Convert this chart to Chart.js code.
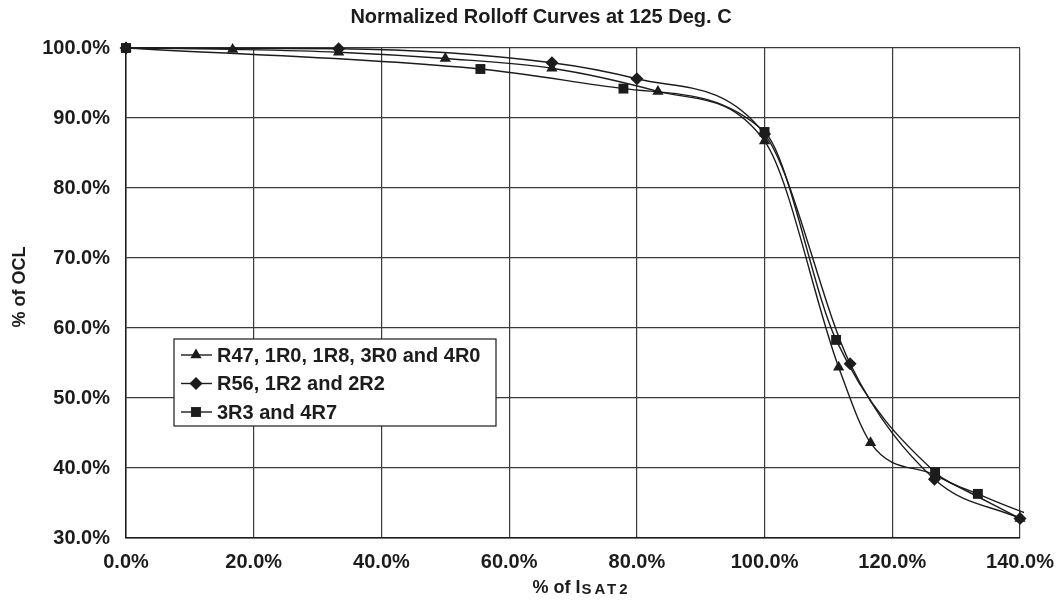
<!DOCTYPE html>
<html>
<head>
<meta charset="utf-8">
<script src="https://cdn.jsdelivr.net/npm/chart.js@4.4.1/dist/chart.umd.min.js"></script>
<style>
  html, body { margin: 0; padding: 0; background: #fff; }
  #wrap { width: 1059px; height: 601px; position: relative; }
</style>
</head>
<body>
<div id="wrap"><canvas id="rolloff"></canvas></div>
<script>
// % of Isat2 (x) and % of OCL (y) for each inductor group
const xA = [0, 16.7, 33.3, 50, 66.7, 83.3, 100, 111.6, 116.6, 126.7, 140];
const yA = [100, 99.8, 99.4, 98.5, 97.1, 93.8, 86.7, 54.4, 43.6, 39.0, 32.8];
const xB = [0, 33.3, 66.7, 80, 100, 113.4, 126.6, 140];
const yB = [100, 99.9, 97.9, 95.6, 87.7, 54.9, 38.4, 32.8];
const xC = [0, 55.5, 77.9, 100, 111.2, 126.7, 133.4, 144.4];
const yC = [100, 97.0, 94.2, 88.0, 58.3, 39.4, 36.3, 32.3];
const labels = ["R47, 1R0, 1R8, 3R0 and 4R0", "R56, 1R2 and 2R2", "3R3 and 4R7"];
const styles = ["triangle", "rectRot", "rect"];
const sizes = [6.5, 6.5, 7];

const ink = "#1c1c1c";
const FONT = "'Liberation Sans', Arial, sans-serif";

function pts(xs, ys) {
    return xs.map((x, i) => ({ x: x, y: ys[i] }));
}

const series = [pts(xA, yA), pts(xB, yB), pts(xC, yC)];

const datasets = series.map((d, i) => ({
    label: labels[i],
    data: d,
    borderColor: ink,
    backgroundColor: ink,
    borderWidth: 1.4,
    pointStyle: styles[i],
    pointRadius: sizes[i],
    pointBorderWidth: 0,
    showLine: true,
    cubicInterpolationMode: "monotone",
    clip: { left: 10, top: 10, right: i === 2 ? 4 : 10, bottom: 0 }
}));

// title, axis titles and the boxed legend inside the plot
const decorations = {
    id: "decorations",
    afterDraw(chart) {
        const c = chart.ctx;
        c.save();
        c.fillStyle = ink;
        c.textBaseline = "middle";

        c.font = "bold 20px " + FONT;
        c.textAlign = "center";
        c.fillText("Normalized Rolloff Curves at 125 Deg. C", 541, 17);

        c.save();
        c.translate(20, 287);
        c.rotate(-Math.PI / 2);
        c.font = "bold 18px " + FONT;
        c.fillText("% of OCL", 0, 0);
        c.restore();

        c.textAlign = "left";
        c.font = "bold 18px " + FONT;
        const part1 = "% of I";
        const w1 = c.measureText(part1).width;
        c.font = "bold 15px " + FONT;
        c.letterSpacing = "3px";
        const w2 = c.measureText("SAT2").width;
        const x0 = 581 - (w1 + w2) / 2;
        c.fillText("SAT2", x0 + w1 + 1, 590);
        c.letterSpacing = "0px";
        c.font = "bold 18px " + FONT;
        c.fillText(part1, x0, 588);

        // legend
        const lx = 174, ly = 339, lw = 322, lh = 87;
        c.fillStyle = "#fff";
        c.fillRect(lx, ly, lw, lh);
        c.strokeStyle = ink;
        c.lineWidth = 1.2;
        c.strokeRect(lx, ly, lw, lh);
        c.font = "bold 20px " + FONT;
        labels.forEach((lab, i) => {
            const y = ly + 16 + i * 28.5;
            c.strokeStyle = ink;
            c.lineWidth = 1.4;
            c.beginPath();
            c.moveTo(lx + 7, y);
            c.lineTo(lx + 38, y);
            c.stroke();
            c.fillStyle = ink;
            Chart.helpers.drawPoint(c, { pointStyle: styles[i], radius: sizes[i], rotation: 0, borderWidth: 0 }, lx + 22, y);
            c.fillStyle = ink;
            c.fillText(lab, lx + 43, y + 1);
        });
        c.restore();
    }
};

new Chart(document.getElementById("rolloff").getContext("2d"), {
    type: "scatter",
    data: { datasets: datasets },
    options: {
        responsive: true,
        maintainAspectRatio: false,
        animation: false,
        layout: { padding: { top: 48, right: 39, left: 0, bottom: 0 } },
        plugins: {
            legend: { display: false },
            tooltip: { enabled: false }
        },
        scales: {
            x: {
                type: "linear",
                min: 0,
                max: 140,
                afterFit(scale) {
                    scale.height = 63;
                    scale.paddingRight = 0;
                    scale.paddingLeft = 0;
                },
                ticks: {
                    stepSize: 20,
                    color: ink,
                    padding: 12,
                    maxRotation: 0,
                    font: { family: FONT, size: 20, weight: "bold" },
                    callback: v => v.toFixed(1) + "%"
                },
                grid: { color: "#3a3a3a", lineWidth: 1.2, drawTicks: false },
                border: { color: ink, width: 1.5 }
            },
            y: {
                type: "linear",
                min: 30,
                max: 100,
                afterFit(scale) { scale.width = 126; },
                ticks: {
                    stepSize: 10,
                    color: ink,
                    padding: 16,
                    font: { family: FONT, size: 20, weight: "bold" },
                    callback: v => v.toFixed(1) + "%"
                },
                grid: { color: "#3a3a3a", lineWidth: 1.2, drawTicks: false },
                border: { color: ink, width: 1.5 }
            }
        }
    },
    plugins: [decorations]
});
</script>
</body>
</html>
